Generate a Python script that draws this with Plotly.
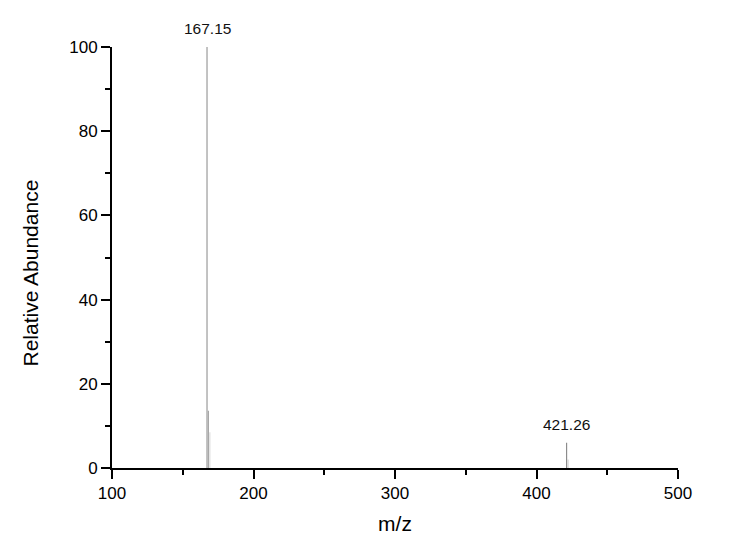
import plotly.graph_objects as go

# Peak list (m/z, relative abundance)
mz = [167.15, 168.15, 169.15, 421.26, 422.26]
abundance = [100.0, 13.6, 8.5, 6.0, 2.0]
peak_colors = ["#9a9a9a", "#a8a8a8", "#dddddd", "#8c8c8c", "#d0d0d0"]

label_mz = [167.15, 421.26]
label_ab = [100.0, 6.0]
label_text = ["167.15", "421.26"]

x_ticks = [100, 200, 300, 400, 500]
y_ticks = [0, 20, 40, 60, 80, 100]

FONT = "Liberation Sans, Arial"

fig = go.Figure()
for m, a, c in zip(mz, abundance, peak_colors):
    fig.add_trace(go.Scatter(x=[m, m], y=[0, a], mode="lines",
                             line=dict(color=c, width=1.2),
                             showlegend=False, hoverinfo="skip"))

for m, a, t in zip(label_mz, label_ab, label_text):
    fig.add_annotation(x=m, y=a, text=t, showarrow=False, yanchor="bottom",
                       yshift=8, font=dict(size=15.5, color="#111", family=FONT))

# y axis title placed as annotation (offset slightly below the axis centre, as in the reference)
fig.add_annotation(xref="paper", yref="paper", x=0, y=0.5, xshift=-82, yshift=-16,
                   text="Relative Abundance", textangle=-90, showarrow=False,
                   xanchor="center", yanchor="middle",
                   font=dict(size=21, color="black", family=FONT))

axis_common = dict(showline=True, linecolor="black", linewidth=2,
                   ticks="outside", ticklen=9, tickwidth=2, tickcolor="black",
                   showgrid=False, zeroline=False,
                   tickfont=dict(size=17, color="black", family=FONT))

fig.update_xaxes(range=[100, 500], tickvals=x_ticks, title_text="m/z",
                 title_font=dict(size=21, color="black", family=FONT),
                 minor=dict(dtick=50, ticks="outside", ticklen=5, tickwidth=2, tickcolor="black"),
                 title_standoff=14, **axis_common)
fig.update_yaxes(range=[0, 100], tickvals=y_ticks,
                 minor=dict(dtick=10, ticks="outside", ticklen=5, tickwidth=2, tickcolor="black"),
                 **axis_common)

fig.update_layout(width=732, height=546, plot_bgcolor="white", paper_bgcolor="white",
                  margin=dict(l=104, r=62, t=39, b=86),
                  font=dict(family=FONT))

fig.write_html("out.html")
